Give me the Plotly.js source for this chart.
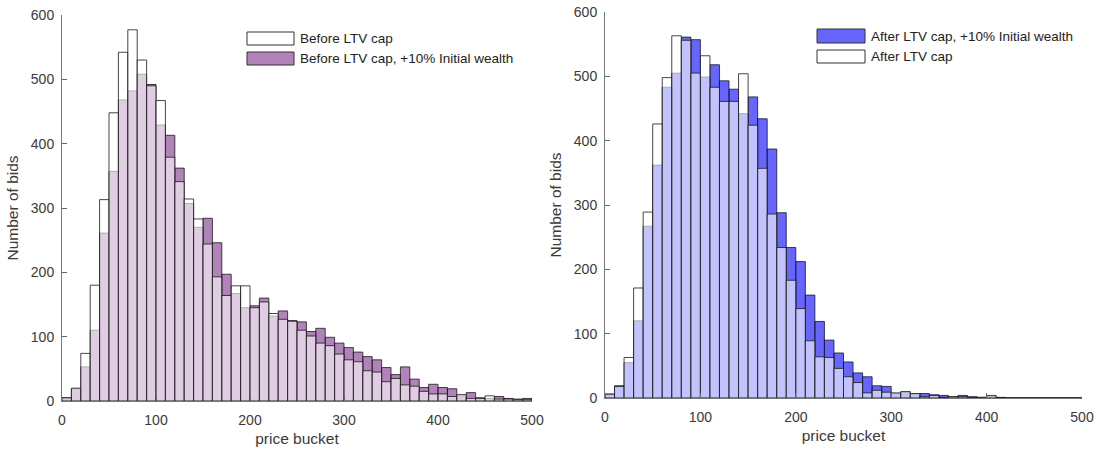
<!DOCTYPE html>
<html>
<head>
<meta charset="utf-8">
<script src="https://cdn.plot.ly/plotly-3.0.1.min.js"></script>
<style>
  html, body { margin: 0; padding: 0; background: #fff; }
  #chart { width: 1100px; height: 452px; }
</style>
</head>
<body>
<div id="chart"></div>
<script>
// Price buckets: 50 bins of width 10 spanning 0..500
const binWidth = 10;
const binCenters = [];
for (let i = 0; i < 50; i++) binCenters.push(i * binWidth + binWidth / 2);

// Bid counts per bucket, before the LTV cap
const beforeCap = [5, 20, 74, 180, 313, 448, 542, 577, 530, 490,
  467, 379, 341, 314, 283, 244, 193, 164, 179, 179,
  145, 154, 136, 127, 124, 110, 101, 90, 86, 73,
  64, 61, 47, 45, 30, 35, 25, 23, 15, 11,
  11, 7, 10, 4, 4, 8, 3, 3, 2, 2];
const beforeCapWealth = [5, 19, 53, 110, 261, 357, 468, 482, 508, 492,
  429, 413, 362, 307, 270, 284, 246, 197, 167, 145,
  148, 160, 132, 140, 125, 123, 108, 113, 99, 90,
  83, 76, 69, 64, 52, 41, 53, 34, 21, 26,
  21, 19, 8, 13, 5, 4, 7, 4, 3, 4];

// Bid counts per bucket, after the LTV cap
const afterCap = [6, 18, 63, 171, 289, 426, 498, 563, 556, 505,
  532, 483, 461, 461, 504, 424, 357, 286, 234, 183,
  139, 89, 64, 63, 46, 33, 24, 8, 12, 9,
  8, 10, 7, 2, 4, 1, 2, 2, 1, 1,
  4, 0, 0, 0, 0, 0, 0, 0, 0, 0];
const afterCapWealth = [6, 19, 55, 120, 267, 362, 483, 505, 561, 557,
  499, 518, 493, 480, 442, 468, 434, 387, 288, 234,
  212, 160, 119, 90, 70, 56, 39, 33, 19, 18,
  7, 9, 6, 7, 5, 4, 2, 4, 2, 1,
  3, 1, 0, 0, 0, 0, 0, 0, 0, 0];

const seriesNames = {
  before: 'Before LTV cap',
  beforeWealth: 'Before LTV cap, +10% Initial wealth',
  afterWealth: 'After LTV cap, +10% Initial wealth',
  after: 'After LTV cap'
};

const edge = { color: 'rgba(25,25,25,0.8)', width: 1 };
const purpleFill = 'rgba(126,47,142,0.6)';
const blueFill = 'rgba(0,0,255,0.6)';
const whiteFill = 'rgba(255,255,255,0.6)';

function bars(values, fill, name, xa, ya) {
  return {
    type: 'bar', x: binCenters, y: values, width: binWidth,
    name: name, xaxis: xa, yaxis: ya, showlegend: false,
    marker: { color: fill, line: edge },
    hoverinfo: 'x+y+name'
  };
}

// Wealth-shifted series sit underneath; the baseline series is drawn over them
const traces = [
  bars(beforeCapWealth, purpleFill, seriesNames.beforeWealth, 'x', 'y'),
  bars(beforeCap, whiteFill, seriesNames.before, 'x', 'y'),
  bars(afterCapWealth, blueFill, seriesNames.afterWealth, 'x2', 'y2'),
  bars(afterCap, whiteFill, seriesNames.after, 'x2', 'y2')
];

const W = 1100, H = 452;
const px = v => v / W;
const py = v => 1 - v / H;

const fontFamily = 'Liberation Sans, Arial, sans-serif';
const tickFont = { family: fontFamily, size: 14, color: '#3a3a3a' };
const titleFont = { family: fontFamily, size: 15.5, color: '#3a3a3a' };

function xAxis(domain, anchor) {
  return {
    domain: domain, anchor: anchor, range: [0, 500],
    tickvals: [0, 100, 200, 300, 400, 500],
    ticks: 'inside', ticklen: 5, tickcolor: '#666',
    showline: true, linecolor: '#777', linewidth: 1,
    showgrid: false, zeroline: false,
    tickfont: tickFont, ticklabelstandoff: 6,
    title: { text: 'price bucket', font: titleFont, standoff: 6 }
  };
}
function yAxis(domain, anchor) {
  return {
    domain: domain, anchor: anchor, range: [0, 600],
    tickvals: [0, 100, 200, 300, 400, 500, 600],
    ticks: 'inside', ticklen: 5, tickcolor: '#666',
    showline: true, linecolor: '#777', linewidth: 1,
    showgrid: false, zeroline: false,
    tickfont: tickFont, ticklabelstandoff: 4,
    title: { text: 'Number of bids', font: titleFont, standoff: 8 }
  };
}

// Legend patches and labels
const legendItems = [
  { x0: 247, x1: 294, y0: 32, y1: 45, fill: '#ffffff', text: seriesNames.before, tx: 298 },
  { x0: 247, x1: 294, y0: 52, y1: 65, fill: 'rgb(178,130,187)', text: seriesNames.beforeWealth, tx: 298 },
  { x0: 817, x1: 865, y0: 29, y1: 43, fill: 'rgb(102,102,255)', text: seriesNames.afterWealth, tx: 869 },
  { x0: 817, x1: 865, y0: 50, y1: 63, fill: '#ffffff', text: seriesNames.after, tx: 869 }
];
const shapes = legendItems.map(it => ({
  type: 'rect', xref: 'paper', yref: 'paper',
  x0: px(it.x0), x1: px(it.x1), y0: py(it.y1), y1: py(it.y0),
  fillcolor: it.fill, line: { color: '#333', width: 1 }
}));
const annotations = legendItems.map(it => ({
  xref: 'paper', yref: 'paper', x: px(it.tx), y: py((it.y0 + it.y1) / 2),
  xanchor: 'left', yanchor: 'middle', showarrow: false,
  text: it.text,
  font: { family: fontFamily, size: 13.5, color: '#222' }
}));

const layout = {
  width: W, height: H,
  margin: { l: 0, r: 0, t: 0, b: 0 },
  paper_bgcolor: '#fff', plot_bgcolor: '#fff',
  barmode: 'overlay', bargap: 0,
  showlegend: false,
  xaxis: xAxis([px(62), px(532)], 'y'),
  yaxis: yAxis([py(401), py(15)], 'x'),
  xaxis2: xAxis([px(605), px(1082)], 'y2'),
  yaxis2: yAxis([py(398), py(12)], 'x2'),
  shapes: shapes,
  annotations: annotations
};

Plotly.newPlot('chart', traces, layout, { displayModeBar: false, staticPlot: true });
</script>
</body>
</html>
